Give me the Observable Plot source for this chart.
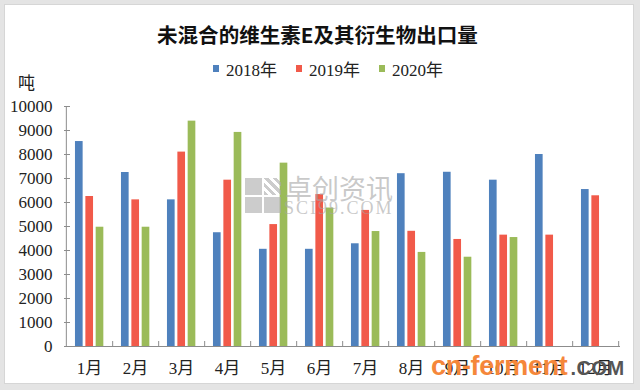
<!DOCTYPE html>
<html>
<head>
<meta charset="utf-8">
<script src="https://cdn.jsdelivr.net/npm/d3@7"></script>
<script src="https://cdn.jsdelivr.net/npm/@observablehq/plot@0.6"></script>
<style>
  html, body { margin: 0; padding: 0; background: #e4e4e4; }
  #wrap { position: relative; width: 640px; height: 390px; overflow: hidden; background: #e4e4e4; }
  #inner { position: absolute; left: 4px; top: 4px; width: 628px; height: 378px; background: #fff; border: 1px solid #d6d6d6; }
  #chart { position: absolute; left: 0; top: 0; }
  .abs { position: absolute; white-space: nowrap; }
  #title { left: 157px; top: 22px;
           font-family: 'Noto Sans CJK SC', sans-serif; font-weight: bold; font-size: 21px; line-height: 24px;
           color: #111; }
  #legend { left: 213px; top: 58px; height: 20px; display: flex; align-items: center;
            font-family: 'Liberation Serif', 'Noto Sans CJK SC', serif; font-size: 17px; color: #222; }
  #legend .item { display: flex; align-items: center; margin-right: 19px; }
  #legend .sw { width: 6px; height: 7px; margin-right: 7px; }
  #unit { left: 18px; top: 72px; font-family: 'Noto Sans CJK SC', sans-serif; font-size: 17px; line-height: 20px; color: #222; }
  #wm1 { left: 285px; top: 173px; font-family: 'Noto Sans CJK SC', sans-serif; font-size: 27px; line-height: 30px; color: rgba(165,165,165,0.6); }
  #wm2 { left: 284px; top: 198px; font-family: 'Liberation Serif', serif; font-size: 18px; line-height: 20px; letter-spacing: 2px; color: rgba(165,165,165,0.6); }
  #wmicon { left: 245px; top: 178px; width: 36px; height: 35px; display: grid; grid-template-columns: 1fr 1fr; grid-template-rows: 1fr 1fr; gap: 2px; }
  #wmicon div { background: rgba(170,170,170,0.6); }
  #wmicon .chk { background: repeating-linear-gradient(45deg, rgba(170,170,170,0.6) 0 3px, rgba(255,255,255,0) 3px 6px); }
  #wm3 { left: 431px; top: 349px; line-height: 34px; }
  #wm3 .a { font-family: 'Liberation Sans', sans-serif; font-weight: bold; font-size: 27px; color: #f5873a; letter-spacing: -0.3px; }
  #wm3 .b { font-family: 'Liberation Sans', sans-serif; font-weight: bold; font-size: 20px; color: #555; letter-spacing: 0.5px; margin-left: 3px; }
</style>
</head>
<body>
<div id="wrap">
  <div id="inner"></div>
  <div id="chart"></div>
  <div id="title" class="abs">未混合的维生素E及其衍生物出口量</div>
  <div id="legend" class="abs"></div>
  <div id="unit" class="abs">吨</div>
  <div id="wmicon" class="abs"><div></div><div class="chk"></div><div></div><div></div></div>
  <div id="wm1" class="abs">卓创资讯</div>
  <div id="wm2" class="abs">SCI99.COM</div>
  <div id="wm3" class="abs"><span class="a">cn-ferment</span><span class="b">.COM</span></div>
</div>
<script>
// ---- data ----
const months = ["1月","2月","3月","4月","5月","6月","7月","8月","9月","10月","11月","12月"];
const years = ["2018年","2019年","2020年"];
const colors = ["#4f81bd","#f15a4a","#9bbb59"];
const v2018 = [8540, 7250, 6110, 4740, 4050, 4050, 4280, 7200, 7260, 6930, 8000, 6540];
const v2019 = [6250, 6110, 8100, 6930, 5080, 6330, 5670, 4800, 4460, 4640, 4640, 6280];
const v2020 = [4970, 4970, 9390, 8920, 7640, 5770, 4790, 3920, 3720, 4540, null, null];
const yTicks = [0, 1000, 2000, 3000, 4000, 5000, 6000, 7000, 8000, 9000, 10000];

const series = [v2018, v2019, v2020];
const rows = [];
years.forEach((yr, i) => months.forEach((m, j) => {
  if (series[i][j] != null) rows.push({month: m, year: yr, value: series[i][j]});
}));

// ---- layout ----
const W = 640, H = 390, mL = 64, mR = 20, mT = 106, mB = 44;
const band = (W - mL - mR) / months.length;
const barW = 8;
const inset = (band - barW) / 2;
const offsets = [-10.2, 0.2, 10.5];
const axisColor = "#8c8c8c";

const plot = Plot.plot({
  width: W, height: H,
  marginLeft: mL, marginRight: mR, marginTop: mT, marginBottom: mB,
  style: {background: "transparent", fontFamily: "'Liberation Serif','Noto Sans CJK SC',serif", fontSize: "17px", color: "#222"},
  x: {domain: months, padding: 0, label: null},
  y: {domain: [0, 10000], label: null},
  color: {domain: years, range: colors},
  marks: [
    ...years.map((yr, i) => Plot.barY(rows.filter(d => d.year === yr), {
      x: "month", y: "value", fill: "year", dx: offsets[i], insetLeft: inset, insetRight: inset
    })),
    Plot.ruleY([0], {stroke: axisColor}),
    Plot.ruleX([months[0]], {dx: -band / 2, stroke: axisColor}),
    Plot.ruleX(months, {dx: band / 2, insetTop: (H - mT - mB) - 5, stroke: axisColor}),
    Plot.ruleY(yTicks.filter(t => t > 0), {insetRight: (W - mL - mR) - 6, stroke: axisColor}),
    Plot.axisY(yTicks, {tickSize: 0, tickPadding: 12, label: null, tickFormat: d => String(d)}),
    Plot.axisX({tickSize: 0, tickPadding: 15, label: null})
  ]
});
document.getElementById("chart").appendChild(plot);

// legend
const lg = document.getElementById("legend");
years.forEach((yr, i) => {
  const it = document.createElement("div"); it.className = "item";
  const sw = document.createElement("div"); sw.className = "sw"; sw.style.background = colors[i];
  const tx = document.createElement("span"); tx.textContent = yr;
  it.appendChild(sw); it.appendChild(tx); lg.appendChild(it);
});

// fit the title to the reference's width (157 → 478 px)
const t = document.getElementById("title");
const w0 = t.getBoundingClientRect().width;
if (w0 > 0) {
  const fs = 21 * 321 / w0;
  t.style.fontSize = fs.toFixed(2) + "px";
  t.style.lineHeight = "24px";
}
</script>
</body>
</html>
